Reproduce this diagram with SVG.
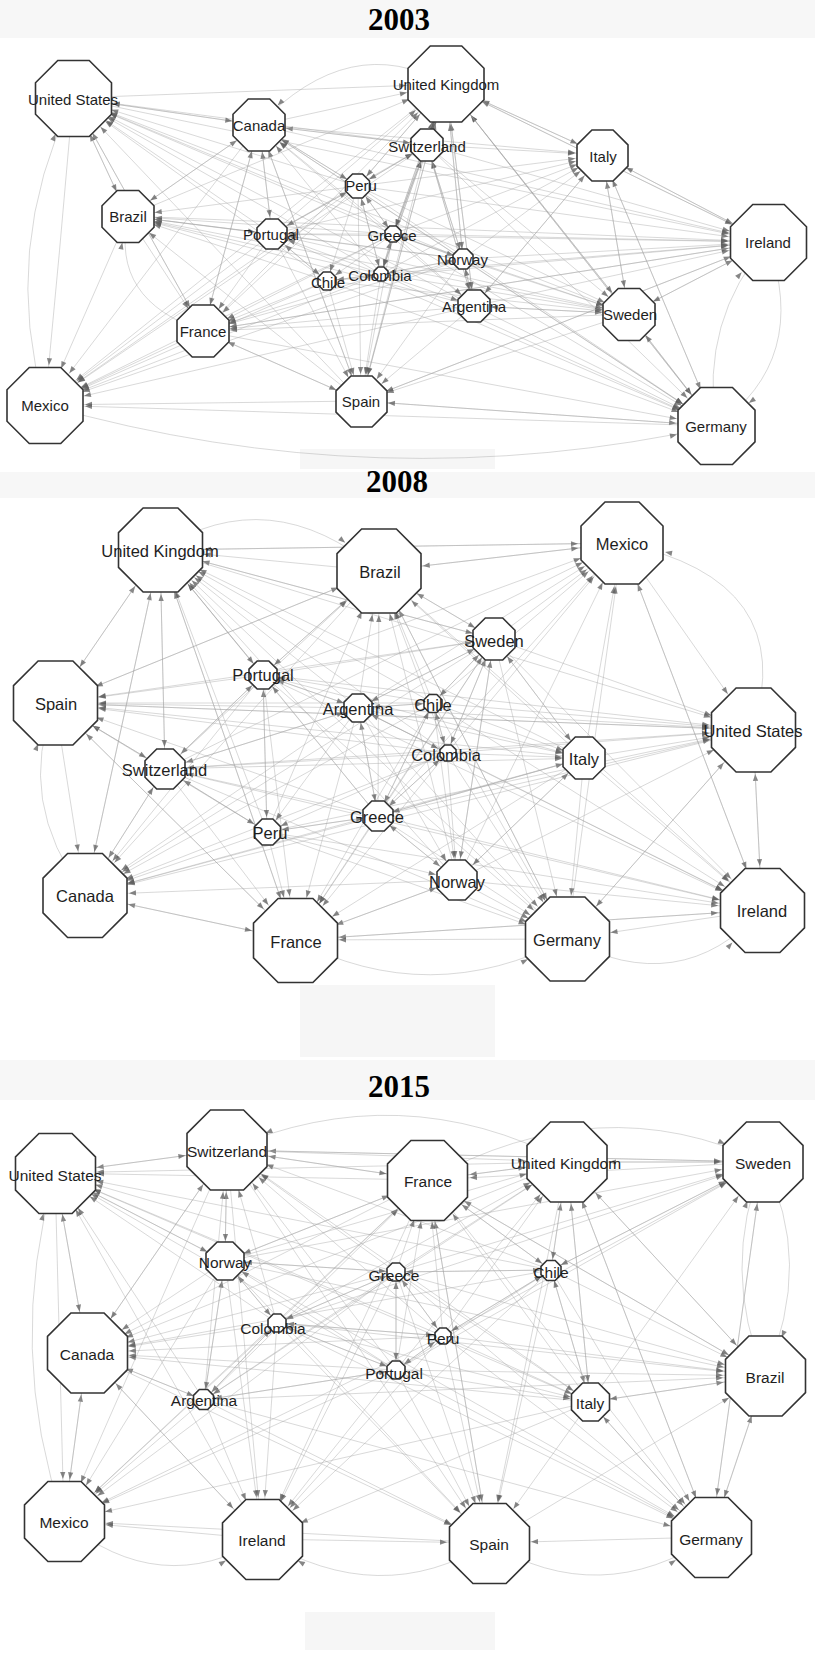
<svg xmlns="http://www.w3.org/2000/svg" xmlns:xlink="http://www.w3.org/1999/xlink" width="815" height="1655" viewBox="0 0 815 1655">
<style>
.e path{fill:none;stroke:#a2a2a2;stroke-width:.55;stroke-opacity:.75}
.mk path{fill:#5e5e5e;fill-opacity:.75;stroke:none}
.n use{fill:#fff;stroke:#333;stroke-width:1.6}
.t{font-family:"Liberation Serif","Times New Roman",serif;font-weight:bold;font-size:31px;fill:#000;text-anchor:middle}
.l1,.l2,.l3{font-family:"Liberation Sans",Arial,sans-serif;fill:#1e1e1e;text-anchor:middle}
.l1{font-size:15px}.l2{font-size:16.5px}.l3{font-size:15.5px}
.bg{fill:#f7f7f7}.nz{fill:#efefef;fill-opacity:.55}
</style>
<defs>
<path id="o" d="M-.414-1H.414L1-.414V.414L.414 1H-.414L-1 .414V-.414Z" vector-effect="non-scaling-stroke"/>
<marker id="m44" class="mk" markerUnits="userSpaceOnUse" markerWidth="8" markerHeight="6" refX="51" refY="0" orient="auto" overflow="visible"><path d="M0-2.6L7 0L0 2.6z"/></marker>
<marker id="m42" class="mk" markerUnits="userSpaceOnUse" markerWidth="8" markerHeight="6" refX="49" refY="0" orient="auto" overflow="visible"><path d="M0-2.6L7 0L0 2.6z"/></marker>
<marker id="m40" class="mk" markerUnits="userSpaceOnUse" markerWidth="8" markerHeight="6" refX="47" refY="0" orient="auto" overflow="visible"><path d="M0-2.6L7 0L0 2.6z"/></marker>
<marker id="m27" class="mk" markerUnits="userSpaceOnUse" markerWidth="8" markerHeight="6" refX="34" refY="0" orient="auto" overflow="visible"><path d="M0-2.6L7 0L0 2.6z"/></marker>
<marker id="m22" class="mk" markerUnits="userSpaceOnUse" markerWidth="8" markerHeight="6" refX="29" refY="0" orient="auto" overflow="visible"><path d="M0-2.6L7 0L0 2.6z"/></marker>
<marker id="m20" class="mk" markerUnits="userSpaceOnUse" markerWidth="8" markerHeight="6" refX="27" refY="0" orient="auto" overflow="visible"><path d="M0-2.6L7 0L0 2.6z"/></marker>
<marker id="m17" class="mk" markerUnits="userSpaceOnUse" markerWidth="8" markerHeight="6" refX="24" refY="0" orient="auto" overflow="visible"><path d="M0-2.6L7 0L0 2.6z"/></marker>
<marker id="m15" class="mk" markerUnits="userSpaceOnUse" markerWidth="8" markerHeight="6" refX="22" refY="0" orient="auto" overflow="visible"><path d="M0-2.6L7 0L0 2.6z"/></marker>
<marker id="m13" class="mk" markerUnits="userSpaceOnUse" markerWidth="8" markerHeight="6" refX="20" refY="0" orient="auto" overflow="visible"><path d="M0-2.6L7 0L0 2.6z"/></marker>
<marker id="m11" class="mk" markerUnits="userSpaceOnUse" markerWidth="8" markerHeight="6" refX="18" refY="0" orient="auto" overflow="visible"><path d="M0-2.6L7 0L0 2.6z"/></marker>
<marker id="m10" class="mk" markerUnits="userSpaceOnUse" markerWidth="8" markerHeight="6" refX="17" refY="0" orient="auto" overflow="visible"><path d="M0-2.6L7 0L0 2.6z"/></marker>
<marker id="m8" class="mk" markerUnits="userSpaceOnUse" markerWidth="8" markerHeight="6" refX="15" refY="0" orient="auto" overflow="visible"><path d="M0-2.6L7 0L0 2.6z"/></marker>
</defs>
<rect width="815" height="1655" fill="#fff"/>
<rect class="bg" x="0" y="0" width="815" height="38"/>
<rect class="bg" x="0" y="472" width="815" height="26"/>
<rect class="bg" x="0" y="1060" width="815" height="40"/>
<rect class="nz" x="300" y="449" width="195" height="20"/>
<rect class="nz" x="300" y="985" width="195" height="72"/>
<rect class="nz" x="305" y="1612" width="190" height="38"/>
<text class="t" x="399" y="30">2003</text>
<text class="t" x="397" y="492">2008</text>
<text class="t" x="399" y="1097">2015</text>

<g id="edges-2003" class="e">
<g marker-end="url(#m40)">
<path d="M259 125L73 98"/><path d="M128 216L73 98"/><path d="M272 234L73 98"/><path d="M358 186L73 98"/><path d="M393 234L73 98"/><path d="M381 274L73 98"/><path d="M327 281L73 98"/><path d="M463 259L73 98"/><path d="M474 306L73 98"/><path d="M203 331L73 98"/><path d="M361 401L73 98"/><path d="M427 145L73 98"/><path d="M629 314L73 98"/><path d="M45 405Q0 250 73 98"/>
<path d="M73 98L446 84"/><path d="M259 125L446 84"/><path d="M427 145L446 84"/><path d="M358 186L446 84"/><path d="M272 234L446 84"/><path d="M393 234L446 84"/><path d="M381 274L446 84"/><path d="M463 259L446 84"/><path d="M474 306L446 84"/><path d="M128 216L446 84"/><path d="M203 331L446 84"/><path d="M361 401L446 84"/><path d="M602 155L446 84"/><path d="M629 314L446 84"/><path d="M716 426L446 84"/><path d="M768 242L446 84"/>
<path d="M446 84L768 242"/><path d="M602 155L768 242"/><path d="M427 145L768 242"/><path d="M358 186L768 242"/><path d="M393 234L768 242"/><path d="M381 274L768 242"/><path d="M463 259L768 242"/><path d="M474 306L768 242"/><path d="M629 314L768 242"/><path d="M259 125L768 242"/><path d="M128 216L768 242"/><path d="M272 234L768 242"/><path d="M327 281L768 242"/><path d="M361 401L768 242"/><path d="M203 331L768 242"/><path d="M716 426Q700 320 768 242"/><path d="M73 98L768 242"/>
<path d="M629 314L716 426"/><path d="M602 155L716 426"/><path d="M768 242Q810 360 716 426"/><path d="M474 306L716 426"/><path d="M463 259L716 426"/><path d="M393 234L716 426"/><path d="M381 274L716 426"/><path d="M327 281L716 426"/><path d="M358 186L716 426"/><path d="M361 401L716 426"/><path d="M203 331L716 426"/><path d="M427 145L716 426"/><path d="M446 84L716 426"/><path d="M272 234L716 426"/><path d="M259 125L716 426"/><path d="M45 405Q380 500 716 426"/>
<path d="M73 98Q60 250 45 405"/><path d="M128 216L45 405"/><path d="M203 331L45 405"/><path d="M361 401L45 405"/><path d="M327 281L45 405"/><path d="M381 274L45 405"/><path d="M272 234L45 405"/><path d="M358 186L45 405"/><path d="M259 125L45 405"/><path d="M393 234L45 405"/><path d="M463 259L45 405"/><path d="M474 306L45 405"/><path d="M427 145L45 405"/><path d="M446 84L45 405"/><path d="M716 426L45 405"/>
</g>
<g marker-end="url(#m27)">
<path d="M73 98L259 125"/><path d="M446 84Q350 30 259 125"/><path d="M427 145L259 125"/><path d="M358 186L259 125"/><path d="M272 234L259 125"/><path d="M393 234L259 125"/><path d="M381 274L259 125"/><path d="M474 306L259 125"/><path d="M463 259L259 125"/><path d="M361 401L259 125"/><path d="M203 331L259 125"/><path d="M128 216L259 125"/>
<path d="M446 84L602 155"/><path d="M427 145L602 155"/><path d="M358 186L602 155"/><path d="M393 234L602 155"/><path d="M463 259L602 155"/><path d="M474 306L602 155"/><path d="M629 314L602 155"/><path d="M381 274L602 155"/><path d="M272 234L602 155"/><path d="M259 125L602 155"/><path d="M768 242L602 155"/><path d="M716 426L602 155"/>
<path d="M73 98L128 216"/><path d="M259 125L128 216"/><path d="M358 186L128 216"/><path d="M272 234L128 216"/><path d="M393 234L128 216"/><path d="M381 274L128 216"/><path d="M327 281L128 216"/><path d="M463 259L128 216"/><path d="M474 306L128 216"/><path d="M361 401L128 216"/><path d="M629 314L128 216"/><path d="M203 331Q110 300 128 216"/>
<path d="M602 155L629 314"/><path d="M768 242L629 314"/><path d="M716 426L629 314"/><path d="M393 234L629 314"/><path d="M463 259L629 314"/><path d="M474 306L629 314"/><path d="M381 274L629 314"/><path d="M358 186L629 314"/><path d="M272 234L629 314"/><path d="M427 145L629 314"/><path d="M327 281L629 314"/><path d="M446 84L629 314"/>
<path d="M128 216L203 331"/><path d="M272 234L203 331"/><path d="M393 234L203 331"/><path d="M381 274L203 331"/><path d="M327 281L203 331"/><path d="M463 259L203 331"/><path d="M474 306L203 331"/><path d="M259 125L203 331"/><path d="M358 186L203 331"/><path d="M768 242L203 331"/><path d="M629 314L203 331"/><path d="M361 401L203 331"/><path d="M73 98L203 331"/>
<path d="M327 281L361 401"/><path d="M381 274L361 401"/><path d="M393 234L361 401"/><path d="M474 306L361 401"/><path d="M463 259L361 401"/><path d="M272 234L361 401"/><path d="M358 186L361 401"/><path d="M629 314L361 401"/><path d="M768 242L361 401"/><path d="M203 331L361 401"/><path d="M716 426L361 401"/><path d="M259 125L361 401"/><path d="M427 145L361 401"/><path d="M446 84L361 401"/>
</g>
<g marker-end="url(#m17)">
<path d="M446 84L427 145"/><path d="M358 186L427 145"/><path d="M393 234L427 145"/><path d="M463 259L427 145"/><path d="M474 306L427 145"/><path d="M381 274L427 145"/><path d="M272 234L427 145"/><path d="M259 125L427 145"/>
<path d="M259 125L272 234"/><path d="M358 186L272 234"/><path d="M327 281L272 234"/><path d="M381 274L272 234"/><path d="M393 234L272 234"/><path d="M463 259L272 234"/><path d="M128 216L272 234"/>
<path d="M463 259L474 306"/><path d="M393 234L474 306"/><path d="M427 145L474 306"/><path d="M381 274L474 306"/><path d="M629 314L474 306"/><path d="M446 84L474 306"/><path d="M602 155L474 306"/>
</g>
<g marker-end="url(#m13)">
<path d="M259 125L358 186"/><path d="M427 145L358 186"/><path d="M446 84L358 186"/><path d="M381 274L358 186"/><path d="M393 234L358 186"/><path d="M272 234L358 186"/>
</g>
<g marker-end="url(#m10)">
<path d="M427 145L463 259"/><path d="M474 306L463 259"/><path d="M393 234L463 259"/><path d="M446 84L463 259"/><path d="M381 274L463 259"/>
<path d="M381 274L327 281"/><path d="M358 186L327 281"/><path d="M272 234L327 281"/><path d="M393 234L327 281"/>
</g>
<g marker-end="url(#m8)">
<path d="M358 186L393 234"/><path d="M381 274L393 234"/><path d="M427 145L393 234"/><path d="M463 259L393 234"/><path d="M446 84L393 234"/>
<path d="M327 281L381 274"/><path d="M358 186L381 274"/><path d="M393 234L381 274"/><path d="M463 259L381 274"/><path d="M427 145L381 274"/>
</g>
</g>

<g id="edges-2008" class="e">
<g marker-end="url(#m44)">
<path d="M55 703L160 550"/><path d="M165 769L160 550"/><path d="M263 675L160 550"/><path d="M358 708L160 550"/><path d="M267 832L160 550"/><path d="M378 816L160 550"/><path d="M85 895L160 550"/><path d="M295 940L160 550"/><path d="M447 753L160 550"/><path d="M433 703L160 550"/><path d="M494 639L160 550"/><path d="M584 758L160 550"/><path d="M457 880L160 550"/><path d="M567 939L160 550"/><path d="M379 571L160 550"/><path d="M622 543L160 550"/>
<path d="M160 550Q270 480 379 571"/><path d="M263 675L379 571"/><path d="M358 708L379 571"/><path d="M433 703L379 571"/><path d="M494 639L379 571"/><path d="M447 753L379 571"/><path d="M378 816L379 571"/><path d="M165 769L379 571"/><path d="M584 758L379 571"/><path d="M457 880L379 571"/><path d="M267 832L379 571"/><path d="M55 703L379 571"/><path d="M622 543L379 571"/><path d="M567 939L379 571"/>
<path d="M379 571L622 543"/><path d="M494 639L622 543"/><path d="M433 703L622 543"/><path d="M447 753L622 543"/><path d="M358 708L622 543"/><path d="M263 675L622 543"/><path d="M584 758L622 543"/><path d="M753 730Q800 580 622 543"/><path d="M378 816L622 543"/><path d="M457 880L622 543"/><path d="M160 550L622 543"/><path d="M762 910L622 543"/><path d="M567 939L622 543"/><path d="M165 769L622 543"/>
<path d="M160 550L55 703"/><path d="M263 675L55 703"/><path d="M358 708L55 703"/><path d="M165 769L55 703"/><path d="M447 753L55 703"/><path d="M433 703L55 703"/><path d="M378 816L55 703"/><path d="M494 639L55 703"/><path d="M584 758L55 703"/><path d="M267 832L55 703"/><path d="M85 895Q15 800 55 703"/><path d="M379 571L55 703"/><path d="M753 730L55 703"/><path d="M295 940L55 703"/>
<path d="M622 543L753 730"/><path d="M494 639L753 730"/><path d="M433 703L753 730"/><path d="M447 753L753 730"/><path d="M584 758L753 730"/><path d="M358 708L753 730"/><path d="M378 816L753 730"/><path d="M263 675L753 730"/><path d="M457 880L753 730"/><path d="M762 910L753 730"/><path d="M567 939L753 730"/><path d="M160 550L753 730"/><path d="M55 703L753 730"/><path d="M165 769L753 730"/><path d="M267 832L753 730"/>
<path d="M55 703L85 895"/><path d="M165 769L85 895"/><path d="M263 675L85 895"/><path d="M358 708L85 895"/><path d="M267 832L85 895"/><path d="M378 816L85 895"/><path d="M447 753L85 895"/><path d="M433 703L85 895"/><path d="M494 639L85 895"/><path d="M584 758L85 895"/><path d="M295 940L85 895"/><path d="M457 880L85 895"/><path d="M160 550L85 895"/><path d="M379 571L85 895"/><path d="M753 730L85 895"/>
<path d="M85 895L295 940"/><path d="M267 832L295 940"/><path d="M378 816L295 940"/><path d="M165 769L295 940"/><path d="M358 708L295 940"/><path d="M447 753L295 940"/><path d="M457 880L295 940"/><path d="M584 758L295 940"/><path d="M433 703L295 940"/><path d="M263 675L295 940"/><path d="M494 639L295 940"/><path d="M160 550L295 940"/><path d="M567 939L295 940"/><path d="M55 703L295 940"/><path d="M762 910L295 940"/>
<path d="M457 880L567 939"/><path d="M584 758L567 939"/><path d="M378 816L567 939"/><path d="M447 753L567 939"/><path d="M358 708L567 939"/><path d="M494 639L567 939"/><path d="M433 703L567 939"/><path d="M267 832L567 939"/><path d="M295 940Q430 1010 567 939"/><path d="M762 910L567 939"/><path d="M753 730L567 939"/><path d="M165 769L567 939"/><path d="M263 675L567 939"/><path d="M379 571L567 939"/>
<path d="M567 939Q680 1000 762 910"/><path d="M584 758L762 910"/><path d="M457 880L762 910"/><path d="M378 816L762 910"/><path d="M447 753L762 910"/><path d="M433 703L762 910"/><path d="M494 639L762 910"/><path d="M358 708L762 910"/><path d="M753 730L762 910"/><path d="M267 832L762 910"/><path d="M165 769L762 910"/><path d="M263 675L762 910"/><path d="M622 543L762 910"/><path d="M295 940L762 910"/><path d="M379 571L762 910"/>
</g>
<g marker-end="url(#m22)">
<path d="M433 703L494 639"/><path d="M447 753L494 639"/><path d="M358 708L494 639"/><path d="M263 675L494 639"/><path d="M378 816L494 639"/><path d="M584 758L494 639"/><path d="M160 550L494 639"/><path d="M379 571L494 639"/><path d="M457 880L494 639"/>
<path d="M447 753L584 758"/><path d="M433 703L584 758"/><path d="M358 708L584 758"/><path d="M378 816L584 758"/><path d="M494 639L584 758"/><path d="M263 675L584 758"/><path d="M457 880L584 758"/><path d="M165 769L584 758"/>
<path d="M263 675L165 769"/><path d="M358 708L165 769"/><path d="M267 832L165 769"/><path d="M378 816L165 769"/><path d="M447 753L165 769"/><path d="M55 703L165 769"/><path d="M160 550L165 769"/><path d="M85 895L165 769"/>
<path d="M447 753L457 880"/><path d="M378 816L457 880"/><path d="M358 708L457 880"/><path d="M433 703L457 880"/><path d="M494 639L457 880"/><path d="M584 758L457 880"/><path d="M267 832L457 880"/><path d="M295 940L457 880"/>
</g>
<g marker-end="url(#m15)">
<path d="M358 708L263 675"/><path d="M433 703L263 675"/><path d="M378 816L263 675"/><path d="M165 769L263 675"/><path d="M267 832L263 675"/><path d="M160 550L263 675"/><path d="M379 571L263 675"/>
<path d="M433 703L358 708"/><path d="M447 753L358 708"/><path d="M263 675L358 708"/><path d="M378 816L358 708"/><path d="M494 639L358 708"/><path d="M165 769L358 708"/>
<path d="M447 753L378 816"/><path d="M358 708L378 816"/><path d="M267 832L378 816"/><path d="M433 703L378 816"/><path d="M457 880L378 816"/><path d="M584 758L378 816"/>
<path d="M378 816L267 832"/><path d="M165 769L267 832"/><path d="M447 753L267 832"/><path d="M263 675L267 832"/><path d="M358 708L267 832"/>
</g>
<g marker-end="url(#m10)">
<path d="M447 753L433 703"/><path d="M358 708L433 703"/><path d="M494 639L433 703"/><path d="M378 816L433 703"/>
<path d="M433 703L447 753"/><path d="M378 816L447 753"/><path d="M358 708L447 753"/><path d="M494 639L447 753"/>
</g>
</g>

<g id="edges-2015" class="e">
<g marker-end="url(#m42)">
<path d="M227 1150L55 1173"/><path d="M225 1261L55 1173"/><path d="M277 1323L55 1173"/><path d="M87 1353L55 1173"/><path d="M204 1400L55 1173"/><path d="M396 1272L55 1173"/><path d="M396 1370L55 1173"/><path d="M443 1336L55 1173"/><path d="M428 1180L55 1173"/><path d="M64 1521Q5 1350 55 1173"/><path d="M262 1539L55 1173"/><path d="M567 1162L55 1173"/><path d="M551 1270L55 1173"/><path d="M590 1402L55 1173"/>
<path d="M55 1173L227 1150"/><path d="M225 1261L227 1150"/><path d="M428 1180L227 1150"/><path d="M567 1162Q400 1075 227 1150"/><path d="M396 1272L227 1150"/><path d="M277 1323L227 1150"/><path d="M443 1336L227 1150"/><path d="M551 1270L227 1150"/><path d="M396 1370L227 1150"/><path d="M204 1400L227 1150"/><path d="M87 1353L227 1150"/><path d="M590 1402L227 1150"/><path d="M763 1162L227 1150"/>
<path d="M227 1150L428 1180"/><path d="M567 1162L428 1180"/><path d="M396 1272L428 1180"/><path d="M443 1336L428 1180"/><path d="M551 1270L428 1180"/><path d="M225 1261L428 1180"/><path d="M277 1323L428 1180"/><path d="M396 1370L428 1180"/><path d="M590 1402L428 1180"/><path d="M763 1162L428 1180"/><path d="M204 1400L428 1180"/><path d="M765 1376L428 1180"/><path d="M489 1543L428 1180"/>
<path d="M428 1180L567 1162"/><path d="M763 1162L567 1162"/><path d="M551 1270L567 1162"/><path d="M396 1272L567 1162"/><path d="M443 1336L567 1162"/><path d="M590 1402L567 1162"/><path d="M396 1370L567 1162"/><path d="M277 1323L567 1162"/><path d="M225 1261L567 1162"/><path d="M227 1150L567 1162"/><path d="M765 1376L567 1162"/><path d="M204 1400L567 1162"/><path d="M711 1537L567 1162"/>
<path d="M567 1162L763 1162"/><path d="M551 1270L763 1162"/><path d="M443 1336L763 1162"/><path d="M396 1272L763 1162"/><path d="M590 1402L763 1162"/><path d="M765 1376Q720 1270 763 1162"/><path d="M396 1370L763 1162"/><path d="M277 1323L763 1162"/><path d="M225 1261L763 1162"/><path d="M428 1180Q600 1085 763 1162"/><path d="M711 1537L763 1162"/><path d="M227 1150L763 1162"/>
<path d="M55 1173L87 1353"/><path d="M227 1150L87 1353"/><path d="M225 1261L87 1353"/><path d="M277 1323L87 1353"/><path d="M204 1400L87 1353"/><path d="M396 1272L87 1353"/><path d="M396 1370L87 1353"/><path d="M443 1336L87 1353"/><path d="M428 1180L87 1353"/><path d="M64 1521L87 1353"/><path d="M262 1539L87 1353"/><path d="M551 1270L87 1353"/><path d="M590 1402L87 1353"/><path d="M567 1162L87 1353"/>
<path d="M763 1162Q815 1260 765 1376"/><path d="M551 1270L765 1376"/><path d="M590 1402L765 1376"/><path d="M443 1336L765 1376"/><path d="M396 1272L765 1376"/><path d="M396 1370L765 1376"/><path d="M567 1162L765 1376"/><path d="M711 1537L765 1376"/><path d="M277 1323L765 1376"/><path d="M225 1261L765 1376"/><path d="M428 1180L765 1376"/><path d="M489 1543L765 1376"/><path d="M204 1400L765 1376"/>
<path d="M87 1353L64 1521"/><path d="M55 1173L64 1521"/><path d="M204 1400L64 1521"/><path d="M277 1323L64 1521"/><path d="M225 1261L64 1521"/><path d="M396 1370L64 1521"/><path d="M396 1272L64 1521"/><path d="M262 1539L64 1521"/><path d="M428 1180L64 1521"/><path d="M227 1150L64 1521"/><path d="M443 1336L64 1521"/><path d="M489 1543L64 1521"/><path d="M590 1402L64 1521"/>
<path d="M204 1400L262 1539"/><path d="M277 1323L262 1539"/><path d="M225 1261L262 1539"/><path d="M396 1370L262 1539"/><path d="M396 1272L262 1539"/><path d="M443 1336L262 1539"/><path d="M87 1353L262 1539"/><path d="M64 1521Q160 1600 262 1539"/><path d="M489 1543Q380 1610 262 1539"/><path d="M428 1180L262 1539"/><path d="M227 1150L262 1539"/><path d="M590 1402L262 1539"/><path d="M551 1270L262 1539"/>
<path d="M396 1370L489 1543"/><path d="M443 1336L489 1543"/><path d="M396 1272L489 1543"/><path d="M277 1323L489 1543"/><path d="M590 1402L489 1543"/><path d="M551 1270L489 1543"/><path d="M204 1400L489 1543"/><path d="M225 1261L489 1543"/><path d="M262 1539L489 1543"/><path d="M711 1537L489 1543"/><path d="M428 1180L489 1543"/><path d="M567 1162L489 1543"/><path d="M87 1353L489 1543"/><path d="M227 1150L489 1543"/>
<path d="M590 1402L711 1537"/><path d="M765 1376L711 1537"/><path d="M551 1270L711 1537"/><path d="M443 1336L711 1537"/><path d="M396 1370L711 1537"/><path d="M396 1272L711 1537"/><path d="M763 1162L711 1537"/><path d="M489 1543Q600 1610 711 1537"/><path d="M567 1162L711 1537"/><path d="M277 1323L711 1537"/><path d="M225 1261L711 1537"/><path d="M428 1180L711 1537"/><path d="M204 1400L711 1537"/>
</g>
<g marker-end="url(#m20)">
<path d="M227 1150L225 1261"/><path d="M55 1173L225 1261"/><path d="M277 1323L225 1261"/><path d="M204 1400L225 1261"/><path d="M396 1272L225 1261"/><path d="M396 1370L225 1261"/><path d="M428 1180L225 1261"/>
<path d="M551 1270L590 1402"/><path d="M443 1336L590 1402"/><path d="M396 1272L590 1402"/><path d="M396 1370L590 1402"/><path d="M765 1376L590 1402"/><path d="M567 1162L590 1402"/><path d="M711 1537L590 1402"/><path d="M277 1323L590 1402"/>
</g>
<g marker-end="url(#m11)">
<path d="M443 1336L551 1270"/><path d="M396 1272L551 1270"/><path d="M396 1370L551 1270"/><path d="M567 1162L551 1270"/><path d="M428 1180L551 1270"/><path d="M590 1402L551 1270"/><path d="M763 1162L551 1270"/>
<path d="M277 1323L204 1400"/><path d="M225 1261L204 1400"/><path d="M396 1370L204 1400"/><path d="M396 1272L204 1400"/><path d="M87 1353L204 1400"/>
</g>
<g marker-end="url(#m10)">
<path d="M443 1336L396 1272"/><path d="M277 1323L396 1272"/><path d="M396 1370L396 1272"/><path d="M225 1261L396 1272"/><path d="M551 1270L396 1272"/>
<path d="M225 1261L277 1323"/><path d="M396 1272L277 1323"/><path d="M396 1370L277 1323"/><path d="M204 1400L277 1323"/><path d="M443 1336L277 1323"/>
<path d="M396 1272L396 1370"/><path d="M443 1336L396 1370"/><path d="M277 1323L396 1370"/><path d="M204 1400L396 1370"/>
<path d="M396 1272L443 1336"/><path d="M396 1370L443 1336"/><path d="M277 1323L443 1336"/><path d="M551 1270L443 1336"/>
</g>
</g>

<g id="nodes-2003" class="n">
<g id="n2003-united-states"><use href="#o" transform="translate(73.5 98.5) scale(38)"/><text class="l1" x="73" y="105">United States</text></g>
<g id="n2003-united-kingdom"><use href="#o" transform="translate(446 84) scale(38)"/><text class="l1" x="446" y="90">United Kingdom</text></g>
<g id="n2003-canada"><use href="#o" transform="translate(259 125) scale(26)"/><text class="l1" x="259" y="131">Canada</text></g>
<g id="n2003-switzerland"><use href="#o" transform="translate(427 145) scale(16)"/><text class="l1" x="427" y="152">Switzerland</text></g>
<g id="n2003-italy"><use href="#o" transform="translate(602.5 155.5) scale(25.5)"/><text class="l1" x="603" y="162">Italy</text></g>
<g id="n2003-peru"><use href="#o" transform="translate(357.5 186) scale(12)"/><text class="l1" x="361" y="191">Peru</text></g>
<g id="n2003-brazil"><use href="#o" transform="translate(128 216.5) scale(26)"/><text class="l1" x="128" y="222">Brazil</text></g>
<g id="n2003-portugal"><use href="#o" transform="translate(272 234) scale(15)"/><text class="l1" x="271" y="240">Portugal</text></g>
<g id="n2003-greece"><use href="#o" transform="translate(393 234) scale(8)"/><text class="l1" x="392" y="241">Greece</text></g>
<g id="n2003-ireland"><use href="#o" transform="translate(768.5 242.5) scale(38)"/><text class="l1" x="768" y="248">Ireland</text></g>
<g id="n2003-norway"><use href="#o" transform="translate(463 259) scale(10)"/><text class="l1" x="462.5" y="265">Norway</text></g>
<g id="n2003-chile"><use href="#o" transform="translate(327 281) scale(9)"/><text class="l1" x="328" y="288">Chile</text></g>
<g id="n2003-colombia"><use href="#o" transform="translate(381 274) scale(7)"/><text class="l1" x="380" y="281">Colombia</text></g>
<g id="n2003-argentina"><use href="#o" transform="translate(474 306) scale(16)"/><text class="l1" x="474" y="312">Argentina</text></g>
<g id="n2003-sweden"><use href="#o" transform="translate(629 314.5) scale(26)"/><text class="l1" x="630" y="320">Sweden</text></g>
<g id="n2003-france"><use href="#o" transform="translate(203 331) scale(26)"/><text class="l1" x="203" y="337">France</text></g>
<g id="n2003-mexico"><use href="#o" transform="translate(45 405.5) scale(38)"/><text class="l1" x="45" y="411">Mexico</text></g>
<g id="n2003-spain"><use href="#o" transform="translate(361.5 401.5) scale(25.5)"/><text class="l1" x="361" y="407">Spain</text></g>
<g id="n2003-germany"><use href="#o" transform="translate(716.5 426) scale(38.5)"/><text class="l1" x="716" y="432">Germany</text></g>
</g>

<g id="nodes-2008" class="n">
<g id="n2008-united-kingdom"><use href="#o" transform="translate(160.5 550) scale(42)"/><text class="l2" x="160" y="557">United Kingdom</text></g>
<g id="n2008-brazil"><use href="#o" transform="translate(379 571) scale(42)"/><text class="l2" x="380" y="578">Brazil</text></g>
<g id="n2008-mexico"><use href="#o" transform="translate(622 543) scale(41)"/><text class="l2" x="622" y="550">Mexico</text></g>
<g id="n2008-spain"><use href="#o" transform="translate(55.5 703) scale(42)"/><text class="l2" x="56" y="710">Spain</text></g>
<g id="n2008-portugal"><use href="#o" transform="translate(263 675) scale(14)"/><text class="l2" x="263" y="681">Portugal</text></g>
<g id="n2008-argentina"><use href="#o" transform="translate(358 708) scale(14)"/><text class="l2" x="358" y="715">Argentina</text></g>
<g id="n2008-sweden"><use href="#o" transform="translate(494 639) scale(21)"/><text class="l2" x="494" y="647">Sweden</text></g>
<g id="n2008-chile"><use href="#o" transform="translate(433 703.5) scale(9)"/><text class="l2" x="433" y="711">Chile</text></g>
<g id="n2008-united-states"><use href="#o" transform="translate(753.5 730) scale(42)"/><text class="l2" x="753" y="737">United States</text></g>
<g id="n2008-switzerland"><use href="#o" transform="translate(165 769) scale(20)"/><text class="l2" x="164.5" y="776">Switzerland</text></g>
<g id="n2008-colombia"><use href="#o" transform="translate(448 753) scale(8)"/><text class="l2" x="446" y="761">Colombia</text></g>
<g id="n2008-italy"><use href="#o" transform="translate(584 758) scale(21)"/><text class="l2" x="584" y="765">Italy</text></g>
<g id="n2008-greece"><use href="#o" transform="translate(378 816) scale(15)"/><text class="l2" x="377" y="823">Greece</text></g>
<g id="n2008-peru"><use href="#o" transform="translate(267.5 832) scale(13)"/><text class="l2" x="270" y="839">Peru</text></g>
<g id="n2008-canada"><use href="#o" transform="translate(85 895.5) scale(42)"/><text class="l2" x="85" y="902">Canada</text></g>
<g id="n2008-norway"><use href="#o" transform="translate(457 880) scale(20)"/><text class="l2" x="457" y="888">Norway</text></g>
<g id="n2008-ireland"><use href="#o" transform="translate(762.5 910.5) scale(42)"/><text class="l2" x="762" y="917">Ireland</text></g>
<g id="n2008-france"><use href="#o" transform="translate(295.5 940.5) scale(42)"/><text class="l2" x="296" y="948">France</text></g>
<g id="n2008-germany"><use href="#o" transform="translate(567.5 939) scale(42)"/><text class="l2" x="567" y="946">Germany</text></g>
</g>

<g id="nodes-2015" class="n">
<g id="n2015-united-states"><use href="#o" transform="translate(55.5 1173.5) scale(40)"/><text class="l3" x="55" y="1180.5">United States</text></g>
<g id="n2015-switzerland"><use href="#o" transform="translate(227 1150) scale(40)"/><text class="l3" x="227" y="1156.5">Switzerland</text></g>
<g id="n2015-france"><use href="#o" transform="translate(427.5 1180.5) scale(40)"/><text class="l3" x="428" y="1186.5">France</text></g>
<g id="n2015-united-kingdom"><use href="#o" transform="translate(567 1162) scale(40)"/><text class="l3" x="566" y="1168.5">United Kingdom</text></g>
<g id="n2015-sweden"><use href="#o" transform="translate(763 1162) scale(40)"/><text class="l3" x="763" y="1168.5">Sweden</text></g>
<g id="n2015-norway"><use href="#o" transform="translate(225 1261) scale(19)"/><text class="l3" x="225" y="1267.5">Norway</text></g>
<g id="n2015-greece"><use href="#o" transform="translate(396 1272) scale(9)"/><text class="l3" x="394" y="1280.5">Greece</text></g>
<g id="n2015-chile"><use href="#o" transform="translate(551 1270.5) scale(10)"/><text class="l3" x="551" y="1277.5">Chile</text></g>
<g id="n2015-colombia"><use href="#o" transform="translate(277 1323) scale(9)"/><text class="l3" x="273" y="1333.5">Colombia</text></g>
<g id="n2015-peru"><use href="#o" transform="translate(443 1336) scale(8)"/><text class="l3" x="443" y="1343.5">Peru</text></g>
<g id="n2015-canada"><use href="#o" transform="translate(87.5 1353) scale(40)"/><text class="l3" x="87" y="1359.5">Canada</text></g>
<g id="n2015-portugal"><use href="#o" transform="translate(396 1370) scale(9)"/><text class="l3" x="394" y="1378.5">Portugal</text></g>
<g id="n2015-brazil"><use href="#o" transform="translate(765.5 1376) scale(40)"/><text class="l3" x="765" y="1382.5">Brazil</text></g>
<g id="n2015-argentina"><use href="#o" transform="translate(203.5 1399.5) scale(10)"/><text class="l3" x="204" y="1405.5">Argentina</text></g>
<g id="n2015-italy"><use href="#o" transform="translate(590.5 1402) scale(19)"/><text class="l3" x="590" y="1408.5">Italy</text></g>
<g id="n2015-mexico"><use href="#o" transform="translate(64.5 1521.5) scale(40)"/><text class="l3" x="64" y="1527.5">Mexico</text></g>
<g id="n2015-ireland"><use href="#o" transform="translate(262.5 1539.5) scale(40)"/><text class="l3" x="262" y="1545.5">Ireland</text></g>
<g id="n2015-spain"><use href="#o" transform="translate(489.5 1543.5) scale(40)"/><text class="l3" x="489" y="1549.5">Spain</text></g>
<g id="n2015-germany"><use href="#o" transform="translate(711.5 1537.5) scale(40)"/><text class="l3" x="711" y="1544.5">Germany</text></g>
</g>
</svg>
